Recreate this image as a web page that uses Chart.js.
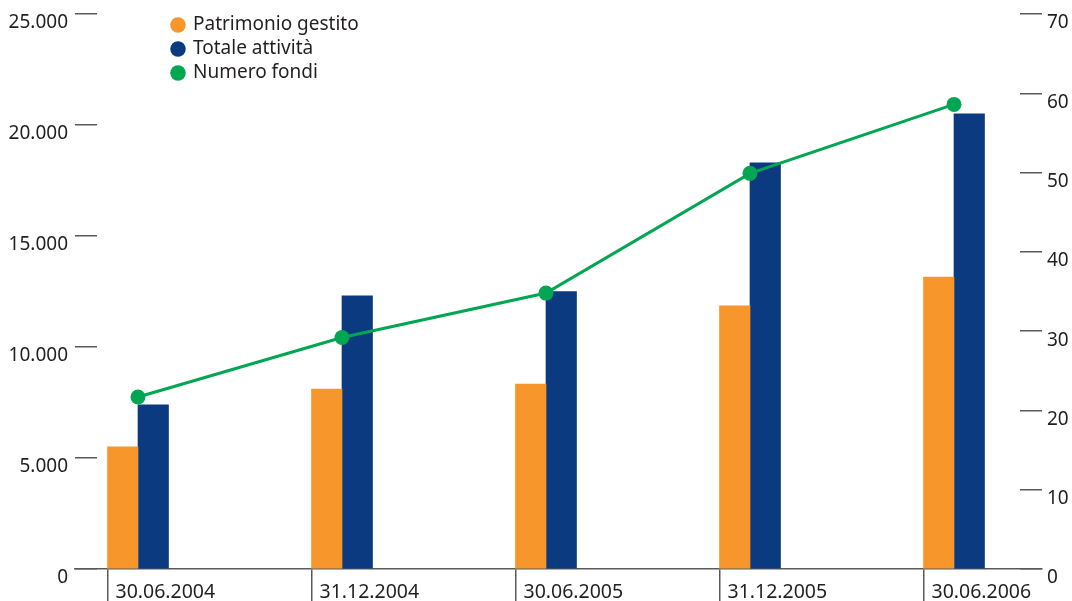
<!DOCTYPE html>
<html lang="it">
<head>
<meta charset="UTF-8">
<title>Patrimonio e fondi</title>
<script src="https://cdn.jsdelivr.net/npm/chart.js"></script>
<style>
    body { margin: 0; background: #fff; }
    #box { width: 1072px; height: 601px; position: relative; }
</style>
</head>
<body>
<div id="box"><canvas id="grafico"></canvas></div>

<script>
    // dati
    const periodi = ['30.06.2004', '31.12.2004', '30.06.2005', '31.12.2005', '30.06.2006'];
    const patrimonioGestito = [5500, 8100, 8330, 11850, 13150];
    const totaleAttivita = [7400, 12300, 12500, 18300, 20500];
    const numeroFondi = [21.7, 29.2, 34.8, 49.9, 58.6];
    const tickSinistra = [0, 5000, 10000, 15000, 20000, 25000];
    const tickDestra = [0, 10, 20, 30, 40, 50, 60, 70];

    const ARANCIO = '#f6962b';
    const BLU = '#0b3a80';
    const VERDE = '#00a651';
    const GRIGIO = '#5a5a5a';
    const TESTO = '#231f20';

    Chart.defaults.font.family = "'Noto Sans', sans-serif";
    Chart.defaults.color = TESTO;

    // separatori tra i periodi: sul bordo sinistro della coppia di barre
    const spostamento = 30.5 / 204;

    function migliaia(v) {
        return String(v).replace(/\B(?=(\d{3})+(?!\d))/g, '.');
    }

    // legenda dentro l'area del grafico, in alto a sinistra
    const posLegenda = {
        id: 'posLegenda',
        afterLayout(chart) {
            const lg = chart.legend;
            const h = lg.bottom - lg.top;
            lg.left = 167.5;
            lg.right = lg.left + lg.width;
            lg.top = 10.5;
            lg.bottom = lg.top + h;
        }
    };

    new Chart(document.getElementById('grafico'), {
        type: 'bar',
        data: {
            datasets: [
                {
                    label: 'Patrimonio gestito',
                    data: patrimonioGestito.map((v, i) => ({ x: i, y: v })),
                    backgroundColor: ARANCIO,
                    borderWidth: 0,
                    barThickness: 30.5,
                    yAxisID: 'y',
                    order: 1
                },
                {
                    label: 'Totale attività',
                    data: totaleAttivita.map((v, i) => ({ x: i, y: v })),
                    backgroundColor: BLU,
                    borderWidth: 0,
                    barThickness: 30.5,
                    yAxisID: 'y',
                    order: 1
                },
                {
                    type: 'line',
                    label: 'Numero fondi',
                    data: numeroFondi.map((v, i) => ({ x: i, y: v })),
                    borderColor: VERDE,
                    backgroundColor: VERDE,
                    borderWidth: 3,
                    tension: 0,
                    pointRadius: 7.5,
                    pointBorderWidth: 0,
                    pointBackgroundColor: VERDE,
                    yAxisID: 'y1',
                    order: 0
                }
            ]
        },
        options: {
            responsive: true,
            maintainAspectRatio: false,
            animation: false,
            layout: { padding: { top: 14, left: 0, right: 0, bottom: 0 } },
            plugins: {
                tooltip: { enabled: false },
                legend: {
                    position: 'chartArea',
                    align: 'start',
                    labels: {
                        usePointStyle: true,
                        pointStyle: 'circle',
                        boxWidth: 11,
                        boxHeight: 11,
                        padding: 5,
                        color: TESTO,
                        font: { size: 19 },
                        sort: (a, b) => a.datasetIndex - b.datasetIndex
                    }
                }
            },
            scales: {
                x: {
                    type: 'linear',
                    bounds: 'data',
                    offset: false,
                    min: -0.3088,
                    max: 4.4314,
                    afterBuildTicks: (s) => {
                        s.ticks = periodi.map((p, i) => ({ value: i - spostamento }));
                    },
                    afterFit: (s) => { s.height = 32; },
                    border: { display: true, color: GRIGIO, width: 1.5 },
                    grid: {
                        offset: false,
                        drawOnChartArea: false,
                        drawTicks: true,
                        tickLength: 32,
                        color: GRIGIO,
                        lineWidth: 1.5
                    },
                    ticks: {
                        autoSkip: false,
                        maxRotation: 0,
                        align: 'start',
                        labelOffset: 8,
                        padding: -20,
                        font: { size: 19.5 },
                        color: TESTO,
                        callback: (v, i) => periodi[i]
                    }
                },
                y: {
                    position: 'left',
                    min: 0,
                    max: 25000,
                    afterBuildTicks: (s) => {
                        s.ticks = tickSinistra.map(v => ({ value: v }));
                    },
                    afterFit: (s) => { s.width = 75; s.paddingTop = 0; s.paddingBottom = 0; },
                    border: { display: false },
                    grid: {
                        drawOnChartArea: false,
                        tickLength: -22,
                        color: GRIGIO,
                        lineWidth: 1.5
                    },
                    ticks: {
                        padding: 29,
                        labelOffset: 9,
                        font: { size: 19 },
                        color: TESTO,
                        callback: (v) => migliaia(v)
                    }
                },
                y1: {
                    position: 'right',
                    min: 0,
                    max: 70,
                    afterBuildTicks: (s) => {
                        s.ticks = tickDestra.map(v => ({ value: v }));
                    },
                    afterFit: (s) => { s.width = 30; s.paddingTop = 0; s.paddingBottom = 0; },
                    border: { display: false },
                    grid: {
                        drawOnChartArea: false,
                        tickLength: -22,
                        color: GRIGIO,
                        lineWidth: 1.5
                    },
                    ticks: {
                        padding: 27,
                        labelOffset: 9,
                        font: { size: 19 },
                        color: TESTO
                    }
                }
            }
        },
        plugins: [posLegenda]
    });
</script>
</body>
</html>
